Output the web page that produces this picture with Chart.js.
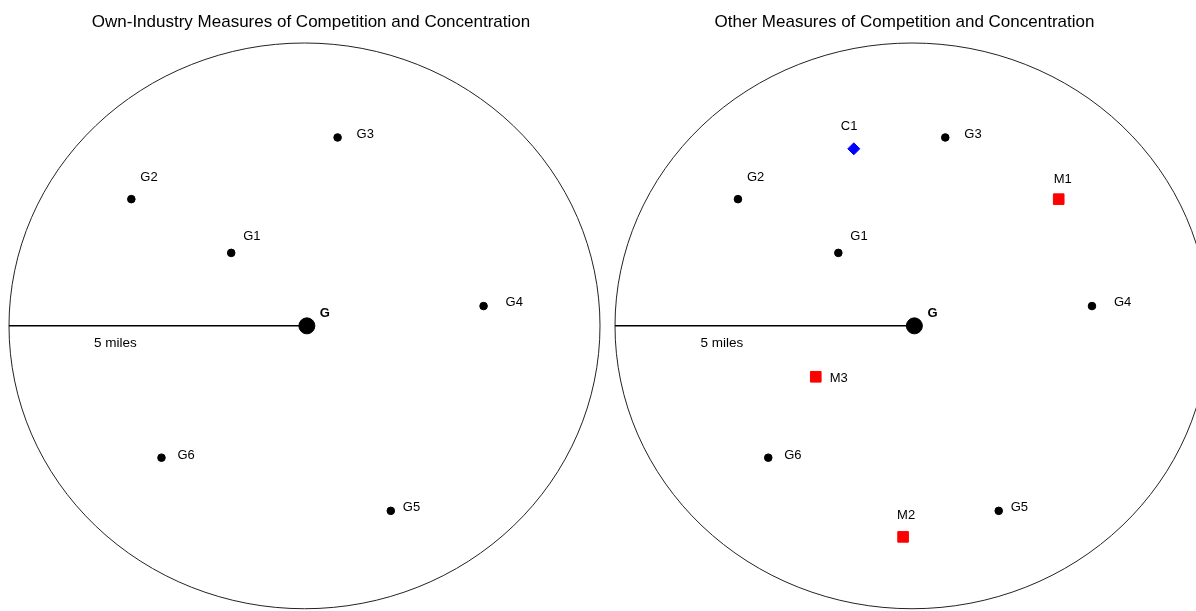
<!DOCTYPE html>
<html>
<head>
<meta charset="utf-8">
<script src="https://cdn.jsdelivr.net/npm/chart.js@4"></script>
<style>
  html, body { margin: 0; padding: 0; background: #fff; overflow: hidden; }
  .panel { position: absolute; top: 0; height: 611px; }
  #leftPanel { left: 0; width: 605px; }
  #rightPanel { left: 605px; width: 604px; }
</style>
</head>
<body>
<div class="panel" id="leftPanel"><canvas id="ownChart"></canvas></div>
<div class="panel" id="rightPanel"><canvas id="otherChart"></canvas></div>
<script>
// distances in miles, G (the firm) near the origin
const radiusMiles = 5;
const centerName = ["G"];
const centerX = [0.04];
const centerY = [0];

const storeNames = ["G1", "G2", "G3", "G4", "G5", "G6"];
const storeX = [-1.24, -2.93, 0.56, 3.03, 1.46, -2.42];
const storeY = [1.29, 2.24, 3.33, 0.35, -3.27, -2.33];

const compNames = ["C1"];
const compX = [-0.98];
const compY = [3.13];

const marketNames = ["M1", "M2", "M3"];
const marketX = [2.47, -0.15, -1.62];
const marketY = [2.24, -3.73, -0.9];

// label placement (pixels from the marker)
const labelOffsets = {
  G: [13, -12], G1: [12, -16], G2: [9, -22], G3: [19, -3], G4: [22, -4],
  G5: [12, -3], G6: [16, -2], C1: [-13, -22], M1: [-5, -20], M2: [-6, -21], M3: [14, 2]
};

const fontFamily = "'Liberation Sans', Arial, sans-serif";

function toPoints(xs, ys) {
  return xs.map((x, i) => ({ x: x, y: ys[i] }));
}

// title, circle, "5 miles" text and point labels
const mapPlugin = {
  id: "mapPlugin",
  beforeDatasetsDraw(chart, args, opts) {
    const ctx = chart.ctx;
    const xs = chart.scales.x, ys = chart.scales.y;
    const cx = xs.getPixelForValue(0), cy = ys.getPixelForValue(0);
    const rx = xs.getPixelForValue(radiusMiles) - cx;
    const ry = cy - ys.getPixelForValue(radiusMiles);
    ctx.save();
    ctx.beginPath();
    ctx.ellipse(cx, cy, rx, ry, 0, 0, Math.PI * 2);
    ctx.strokeStyle = "#222";
    ctx.lineWidth = 1;
    ctx.stroke();

    ctx.fillStyle = "#000";
    ctx.textAlign = "center";
    ctx.textBaseline = "middle";
    ctx.font = "17px " + fontFamily;
    ctx.fillText(opts.title, cx + opts.titleShift, 22);
    ctx.restore();
  },
  afterDatasetsDraw(chart) {
    const ctx = chart.ctx;
    const xs = chart.scales.x, ys = chart.scales.y;
    ctx.save();
    ctx.fillStyle = "#000";
    ctx.textBaseline = "middle";
    ctx.textAlign = "center";
    ctx.font = "13.5px " + fontFamily;
    ctx.fillText(radiusMiles + " miles", xs.getPixelForValue(-3.2), ys.getPixelForValue(0) + 17);
    ctx.textAlign = "left";
    chart.data.datasets.forEach((ds, di) => {
      if (!ds.names) return;
      const meta = chart.getDatasetMeta(di);
      meta.data.forEach((el, i) => {
        const name = ds.names[i];
        const off = labelOffsets[name] || [10, -10];
        ctx.font = (name === "G" ? "bold " : "") + "13px " + fontFamily;
        ctx.fillText(name, el.x + off[0], el.y + off[1]);
      });
    });
    ctx.restore();
  }
};

function baseDatasets() {
  return [
    {
      type: "line",
      data: [{ x: -radiusMiles, y: 0 }, { x: centerX[0], y: centerY[0] }],
      borderColor: "#000",
      borderWidth: 1.5,
      pointRadius: 0
    },
    {
      names: centerName,
      data: toPoints(centerX, centerY),
      pointStyle: "circle",
      pointRadius: 8,
      backgroundColor: "#000",
      borderColor: "#000"
    },
    {
      names: storeNames,
      data: toPoints(storeX, storeY),
      pointStyle: "circle",
      pointRadius: 3.8,
      backgroundColor: "#000",
      borderColor: "#000"
    }
  ];
}

function makeChart(id, title, titleShift, datasets, padLeft, padRight) {
  return new Chart(document.getElementById(id), {
    type: "scatter",
    data: { datasets: datasets },
    options: {
      responsive: true,
      maintainAspectRatio: false,
      animation: false,
      layout: {
        autoPadding: false,
        padding: { left: padLeft, right: padRight, top: 43, bottom: 0 }
      },
      scales: {
        x: { type: "linear", min: -5, max: 5, display: false },
        y: { type: "linear", min: -5.04, max: 5, display: false }
      },
      plugins: {
        legend: { display: false },
        tooltip: { enabled: false },
        title: { display: false },
        mapPlugin: { title: title, titleShift: titleShift }
      }
    },
    plugins: [mapPlugin]
  });
}

makeChart("ownChart", "Own-Industry Measures of Competition and Concentration", 6.5, baseDatasets(), 9, 5);

const otherSets = baseDatasets();
otherSets.push({
  names: compNames,
  data: toPoints(compX, compY),
  pointStyle: "rectRot",
  pointRadius: 6,
  backgroundColor: "#0000ff",
  borderColor: "#0000ff"
});
otherSets.push({
  names: marketNames,
  data: toPoints(marketX, marketY),
  pointStyle: "rect",
  pointRadius: 7.5,
  backgroundColor: "#ff0000",
  borderColor: "#ff0000"
});
makeChart("otherChart", "Other Measures of Competition and Concentration", -7.5, otherSets, 10, 0);
</script>
</body>
</html>
